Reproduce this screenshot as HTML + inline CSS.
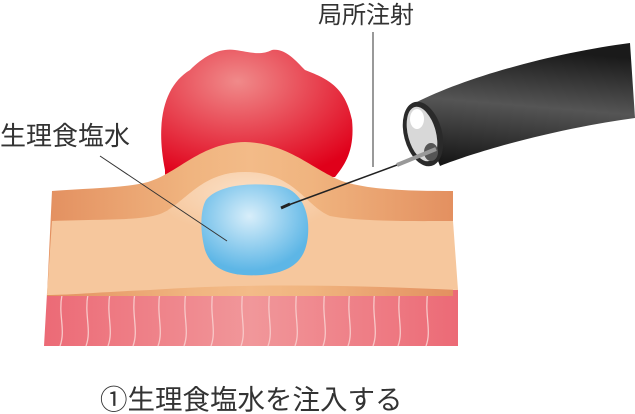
<!DOCTYPE html>
<html><head><meta charset="utf-8"><style>
body{margin:0;background:#fff;width:635px;height:414px;overflow:hidden}
svg{display:block}
text{font-family:"Liberation Sans","Noto Sans CJK JP",sans-serif;fill:#333}
</style></head><body>
<svg width="635" height="414" viewBox="0 0 635 414">
<defs>
<radialGradient id="tum" cx="0.4" cy="0.25" r="0.8"><stop offset="0" stop-color="#f08a8a"/><stop offset="1" stop-color="#e0001a"/></radialGradient>
<radialGradient id="blu" cx="0.45" cy="0.35" r="0.6"><stop offset="0" stop-color="#d8eefa"/><stop offset="1" stop-color="#5db6e6"/></radialGradient>
<radialGradient id="inner" cx="0.5" cy="0.3" r="0.6"><stop offset="0" stop-color="#fbe0c6"/><stop offset="1" stop-color="#f6c79d"/></radialGradient>
<linearGradient id="mus" x1="0" x2="1"><stop offset="0" stop-color="#ec6a76"/><stop offset="0.5" stop-color="#f1979a"/><stop offset="1" stop-color="#ec6a76"/></linearGradient>
<linearGradient id="band" x1="0" x2="1"><stop offset="0" stop-color="#e39060"/><stop offset="0.35" stop-color="#f0b47f"/><stop offset="0.5" stop-color="#f3bb88"/><stop offset="0.65" stop-color="#f0b47f"/><stop offset="1" stop-color="#e39060"/></linearGradient>
<linearGradient id="tube" x1="0" y1="1" x2="0.15" y2="0"><stop offset="0" stop-color="#111"/><stop offset="0.55" stop-color="#555"/><stop offset="1" stop-color="#1a1a1a"/></linearGradient>
</defs>
<!-- tumor -->
<path d="M165,170 C155,120 165,85 190,70 C205,55 220,48 235,50 C250,52 260,56 272,50 C285,48 295,60 305,70 C325,78 345,85 352,120 C355,150 345,165 335,177 L165,177 Z" fill="url(#tum)"/>
<!-- muscle -->
<path d="M47,293 C150,290 250,285 458,290 L458,346 L44,346 Z" fill="url(#mus)"/>
<g stroke="#f8c8c8" stroke-width="1.3" fill="none">
<path d="M62,295 C58,315 66,330 60,346"/><path d="M88,294 C84,315 92,330 86,346"/><path d="M110,293 C106,315 114,330 108,346"/><path d="M135,292 C131,315 139,330 133,346"/><path d="M160,292 C156,315 164,330 158,346"/><path d="M186,291 C182,315 190,330 184,346"/><path d="M213,290 C209,315 217,330 211,346"/><path d="M243,290 C239,315 247,330 241,346"/><path d="M270,290 C266,315 274,330 268,346"/><path d="M297,290 C293,315 301,330 295,346"/><path d="M325,290 C321,315 329,330 323,346"/><path d="M350,290 C346,315 354,330 348,346"/><path d="M375,290 C371,315 379,330 373,346"/><path d="M400,290 C396,315 404,330 398,346"/><path d="M428,290 C424,315 432,330 426,346"/>
</g>
<!-- top band with hump -->
<path d="M52,191 C90,188 125,188 148,182 C180,172 200,143 245,142 C290,143 315,172 345,182 C375,191 420,191 453,191 L453,296 L47,296 Z" fill="url(#band)"/>
<!-- light layer -->
<path d="M52,221 C100,219 140,221 160,214 C185,205 200,172 245,172 C290,172 305,205 330,216 C360,222 420,221 453,221 L458,290 C350,285 250,283 150,290 C100,292 70,295 47,295 Z" fill="#f6c79d"/>
<path d="M168,210 C190,196 205,172 245,172 C290,172 303,200 325,214 C300,250 190,250 168,210Z" fill="url(#inner)"/>
<!-- blue -->
<path d="M206,200 C218,185 250,182 280,186 C300,190 310,210 308,235 C306,258 295,272 262,275 C230,277 212,270 205,250 C200,232 200,210 206,200Z" fill="url(#blu)"/>
<!-- endoscope -->
<path d="M415,103 C470,75 560,52 630,43 L635,118 C560,128 480,150 440,166 Z" fill="url(#tube)"/>
<ellipse cx="423" cy="134" rx="19" ry="33" transform="rotate(-15 423 134)" fill="#2a2a2a"/>
<ellipse cx="422" cy="134" rx="14" ry="28" transform="rotate(-15 422 134)" fill="#d8d8d8"/>
<ellipse cx="417" cy="119" rx="7" ry="10" fill="#fff"/>
<ellipse cx="431" cy="152" rx="7" ry="9" fill="#555"/>
<!-- needle -->
<line x1="436" y1="149" x2="397" y2="165" stroke="#999" stroke-width="4"/>
<line x1="397" y1="165" x2="283" y2="207" stroke="#222" stroke-width="1.5"/>
<line x1="290" y1="204" x2="281" y2="208" stroke="#222" stroke-width="3"/>
<!-- leaders -->
<line x1="373" y1="32" x2="373" y2="167" stroke="#333" stroke-width="1"/>
<line x1="100" y1="156" x2="227" y2="241" stroke="#333" stroke-width="1"/>
<text x="318" y="23" font-size="24">局所注射</text>
<text x="0" y="145" font-size="26">生理食塩水</text>
<text x="100" y="409" font-size="27.5">①生理食塩水を注入する</text>
</svg>
</body></html>
